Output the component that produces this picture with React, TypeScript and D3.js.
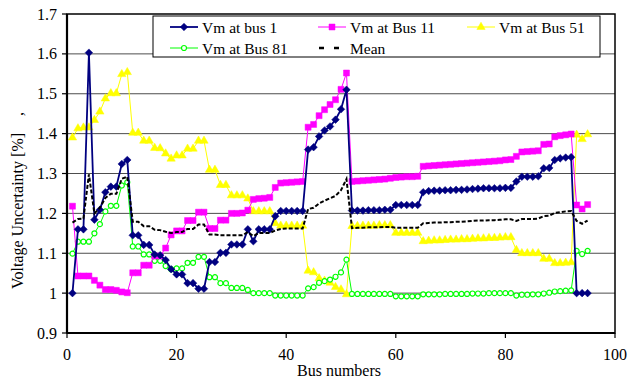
import { useMemo } from "react";
import * as d3 from "d3";

// bus numbers 1..95
const buses = Array.from({ length: 95 }, (_, i) => i + 1);

const vmBus1 = [
  1.0, 1.16, 1.16, 1.603, 1.184, 1.209, 1.253, 1.267, 1.267, 1.324,
  1.334, 1.145, 1.145, 1.121, 1.121, 1.097, 1.095, 1.083, 1.06, 1.047,
  1.047, 1.025, 1.025, 1.011, 1.011, 1.078, 1.078, 1.101, 1.101, 1.122,
  1.122, 1.122, 1.16, 1.13, 1.16, 1.16, 1.16, 1.193, 1.206, 1.206,
  1.206, 1.206, 1.206, 1.36, 1.366, 1.393, 1.408, 1.418, 1.435, 1.461,
  1.51, 1.207, 1.207, 1.207, 1.208, 1.208, 1.208, 1.209, 1.209, 1.221,
  1.221, 1.221, 1.221, 1.221, 1.253, 1.256, 1.257, 1.257, 1.258, 1.258,
  1.259, 1.259, 1.26, 1.261, 1.262, 1.263, 1.263, 1.263, 1.263, 1.264,
  1.264, 1.28, 1.292, 1.292, 1.292, 1.293, 1.313, 1.314, 1.334, 1.338,
  1.34, 1.341, 1.0, 1.0, 1.0,
];

const vmBus11 = [
  1.218, 1.043, 1.043, 1.043, 1.032, 1.02, 1.009, 1.009, 1.007, 1.003,
  1.001, 1.051, 1.051, 1.07, 1.07, 1.093, 1.093, 1.113, 1.146, 1.156,
  1.156, 1.182, 1.182, 1.203, 1.203, 1.162, 1.162, 1.183, 1.183, 1.2,
  1.2, 1.201, 1.208, 1.235, 1.237, 1.238, 1.24, 1.265, 1.276, 1.277,
  1.278, 1.279, 1.28, 1.416, 1.423, 1.445, 1.46, 1.473, 1.485, 1.511,
  1.552, 1.28, 1.281, 1.282, 1.283, 1.284, 1.285, 1.286, 1.288, 1.29,
  1.291, 1.292, 1.292, 1.293, 1.318, 1.319, 1.32, 1.321, 1.322, 1.323,
  1.324, 1.325, 1.326, 1.327, 1.328, 1.329, 1.33, 1.331, 1.332, 1.334,
  1.335, 1.343, 1.354, 1.355, 1.356, 1.357, 1.373, 1.374, 1.392, 1.395,
  1.397, 1.399, 1.221, 1.211, 1.222,
];

const vmBus51 = [
  1.39, 1.413, 1.415, 1.415, 1.434, 1.455, 1.488, 1.501, 1.501, 1.549,
  1.554, 1.402, 1.402, 1.382, 1.382, 1.364, 1.363, 1.35, 1.337, 1.345,
  1.345, 1.362, 1.362, 1.382, 1.382, 1.309, 1.309, 1.271, 1.271, 1.245,
  1.245, 1.245, 1.237, 1.205, 1.205, 1.205, 1.205, 1.175, 1.169, 1.169,
  1.169, 1.169, 1.169, 1.056, 1.052, 1.037, 1.031, 1.026, 1.015, 1.009,
  0.997, 1.168, 1.168, 1.169, 1.169, 1.169, 1.17, 1.17, 1.17, 1.151,
  1.151, 1.151, 1.151, 1.151, 1.13, 1.131, 1.132, 1.132, 1.133, 1.134,
  1.134, 1.135, 1.135, 1.136, 1.137, 1.137, 1.138, 1.138, 1.139, 1.14,
  1.14, 1.108, 1.1, 1.1, 1.1, 1.1, 1.086, 1.086, 1.075, 1.075,
  1.076, 1.077, 1.397, 1.386, 1.398,
];

const vmBus81 = [
  1.099, 1.129, 1.129, 1.129, 1.15, 1.173, 1.205, 1.219, 1.219, 1.27,
  1.278, 1.117, 1.117, 1.097, 1.097, 1.081, 1.081, 1.068, 1.06, 1.062,
  1.062, 1.076, 1.076, 1.091, 1.091, 1.04, 1.04, 1.025, 1.025, 1.013,
  1.013, 1.013, 1.008, 1.0, 1.0, 1.0, 1.0, 0.994, 0.994, 0.994,
  0.994, 0.994, 0.994, 1.012, 1.015, 1.026, 1.03, 1.034, 1.041, 1.052,
  1.084, 0.998, 0.998, 0.998, 0.998, 0.998, 0.998, 0.998, 0.998, 0.992,
  0.992, 0.992, 0.992, 0.992, 0.997, 0.997, 0.997, 0.997, 0.998, 0.998,
  0.998, 0.998, 0.998, 0.999, 0.999, 0.999, 1.0, 1.0, 1.0, 1.0,
  1.0, 0.994, 0.996, 0.996, 0.997, 0.997, 0.999, 1.001, 1.004, 1.005,
  1.006, 1.007, 1.106, 1.098, 1.106,
];

const vmMean = [
  1.177, 1.186, 1.187, 1.298, 1.2, 1.214, 1.239, 1.249, 1.249, 1.287,
  1.292, 1.179, 1.179, 1.168, 1.168, 1.159, 1.158, 1.154, 1.151, 1.153,
  1.153, 1.161, 1.161, 1.172, 1.172, 1.147, 1.147, 1.145, 1.145, 1.145,
  1.145, 1.145, 1.153, 1.143, 1.151, 1.151, 1.151, 1.157, 1.161, 1.162,
  1.162, 1.162, 1.162, 1.211, 1.214, 1.225, 1.232, 1.238, 1.244, 1.258,
  1.286, 1.163, 1.164, 1.164, 1.165, 1.165, 1.165, 1.166, 1.166, 1.164,
  1.164, 1.164, 1.164, 1.164, 1.175, 1.176, 1.177, 1.177, 1.178, 1.178,
  1.179, 1.179, 1.18, 1.181, 1.182, 1.182, 1.183, 1.183, 1.184, 1.185,
  1.185, 1.181, 1.186, 1.186, 1.186, 1.187, 1.193, 1.194, 1.201, 1.203,
  1.205, 1.206, 1.181, 1.174, 1.182,
];

const xTicks = [0, 20, 40, 60, 80, 100];
const yTicks = [0.9, 1, 1.1, 1.2, 1.3, 1.4, 1.5, 1.6, 1.7];
const gridValues = [1, 1.1, 1.2, 1.3, 1.4, 1.5, 1.6];

const serif = "'Liberation Serif', 'Times New Roman', serif";

type Marker = "diamond" | "square" | "triangle" | "circle" | "none";

function markerPath(kind: Marker) {
  if (kind === "diamond") return "M0,-3.8L3.8,0L0,3.8L-3.8,0Z";
  if (kind === "square") return d3.symbol(d3.symbolSquare, 36)() ?? "";
  if (kind === "triangle") return d3.symbol(d3.symbolTriangle, 30)() ?? "";
  if (kind === "circle") return d3.symbol(d3.symbolCircle, 20)() ?? "";
  return "";
}

export default function App() {
  const width = 629;
  const height = 378;
  const pad = { t: 14, r: 14, b: 45, l: 67 };
  const cw = width - pad.l - pad.r;
  const ch = height - pad.t - pad.b;

  const series = [
    { label: "Vm at Bus 51", values: vmBus51, color: "#ffff00", width: 1, marker: "triangle" as Marker, fill: "#ffff00" },
    { label: "Vm at Bus 81", values: vmBus81, color: "#00ff00", width: 1, marker: "circle" as Marker, fill: "#ffffff" },
    { label: "Vm at Bus 11", values: vmBus11, color: "#ff00ff", width: 1, marker: "square" as Marker, fill: "#ff00ff" },
    { label: "Vm at bus 1", values: vmBus1, color: "#000080", width: 1.8, marker: "diamond" as Marker, fill: "#000080" },
  ];

  const { xScale, yScale, paths, meanPath } = useMemo(() => {
    const xScale = d3.scaleLinear().domain([0, 100]).range([0, cw]);
    const yScale = d3.scaleLinear().domain([0.9, 1.7]).range([ch, 0]);
    const line = d3
      .line<number>()
      .x((_, i) => xScale(buses[i]))
      .y((v) => yScale(v));
    return {
      xScale,
      yScale,
      paths: series.map((s) => line(s.values) ?? ""),
      meanPath: line(vmMean) ?? "",
    };
  }, [cw, ch]);

  const legend = [
    { label: "Vm at bus 1", x: 170, y: 27, color: "#000080", marker: "diamond" as Marker, fill: "#000080", w: 1.8 },
    { label: "Vm at Bus 11", x: 318, y: 27, color: "#ff00ff", marker: "square" as Marker, fill: "#ff00ff", w: 1 },
    { label: "Vm at Bus 51", x: 467, y: 27, color: "#ffff00", marker: "triangle" as Marker, fill: "#ffff00", w: 1 },
    { label: "Vm at Bus 81", x: 170, y: 48, color: "#00ff00", marker: "circle" as Marker, fill: "#ffffff", w: 1 },
  ];

  return (
    <div style={{ position: "fixed", left: 0, top: 0, background: "#fff" }}>
      <svg width={width} height={height} viewBox={`0 0 ${width} ${height}`} fontFamily={serif}>
        <rect width={width} height={height} fill="#fff" />
        <g transform={`translate(${pad.l},${pad.t})`}>
          {gridValues.map((g) => (
            <line key={g} x1={0} x2={cw} y1={yScale(g)} y2={yScale(g)} stroke="#4d4d4d" strokeWidth={1} />
          ))}
          <rect x={0} y={0} width={cw} height={ch} fill="none" stroke="#000" strokeWidth={1.5} />

          {series.map((s, si) => (
            <g key={s.label}>
              <path d={paths[si]} fill="none" stroke={s.color} strokeWidth={s.width} />
              {s.values.map((v, i) => (
                <path
                  key={i}
                  d={markerPath(s.marker)}
                  transform={`translate(${xScale(buses[i])},${yScale(v)})`}
                  fill={s.fill}
                  stroke={s.color}
                  strokeWidth={s.marker === "circle" ? 1.2 : 0.5}
                />
              ))}
            </g>
          ))}
          <path d={meanPath} fill="none" stroke="#000" strokeWidth={2} strokeDasharray="4,2" />

          {/* axes */}
          <line x1={0} x2={0} y1={0} y2={ch} stroke="#000" strokeWidth={2.2} />
          <line x1={0} x2={cw} y1={ch} y2={ch} stroke="#000" strokeWidth={2.2} />
          {yTicks.map((t) => (
            <g key={t}>
              <line x1={-5} x2={0} y1={yScale(t)} y2={yScale(t)} stroke="#000" strokeWidth={1.2} />
              <text x={-10} y={yScale(t)} dy="0.35em" textAnchor="end" fontSize={16}>
                {t}
              </text>
            </g>
          ))}
          {xTicks.map((t) => (
            <g key={t}>
              <line x1={xScale(t)} x2={xScale(t)} y1={ch} y2={ch + 5} stroke="#000" strokeWidth={1.2} />
              <text x={xScale(t)} y={ch + 27} textAnchor="middle" fontSize={16}>
                {t}
              </text>
            </g>
          ))}
        </g>

        <text x={pad.l + cw / 2 - 2} y={376} textAnchor="middle" fontSize={16}>
          Bus numbers
        </text>
        <text transform="translate(23,211) rotate(-90)" textAnchor="middle" fontSize={16}>
          Voltage Uncertainty [%]
        </text>
        <text transform="translate(23,114) rotate(-90)" textAnchor="middle" fontSize={16}>
          ,
        </text>

        {/* legend */}
        <rect x={153} y={16} width={447} height={41} fill="#fff" stroke="#000" strokeWidth={1} />
        {legend.map((l) => (
          <g key={l.label}>
            <line x1={l.x} x2={l.x + 28} y1={l.y} y2={l.y} stroke={l.color} strokeWidth={l.w} />
            <path
              d={markerPath(l.marker)}
              transform={`translate(${l.x + 14},${l.y})`}
              fill={l.fill}
              stroke={l.color}
              strokeWidth={l.marker === "circle" ? 1.2 : 0.5}
            />
            <text x={l.x + 32} y={l.y + 5.5} fontSize={15.5}>
              {l.label}
            </text>
          </g>
        ))}
        <line x1={319} x2={339} y1={48} y2={48} stroke="#000" strokeWidth={2.5} strokeDasharray="5,10" />
        <text x={350} y={53.5} fontSize={15.5}>
          Mean
        </text>
      </svg>
    </div>
  );
}
